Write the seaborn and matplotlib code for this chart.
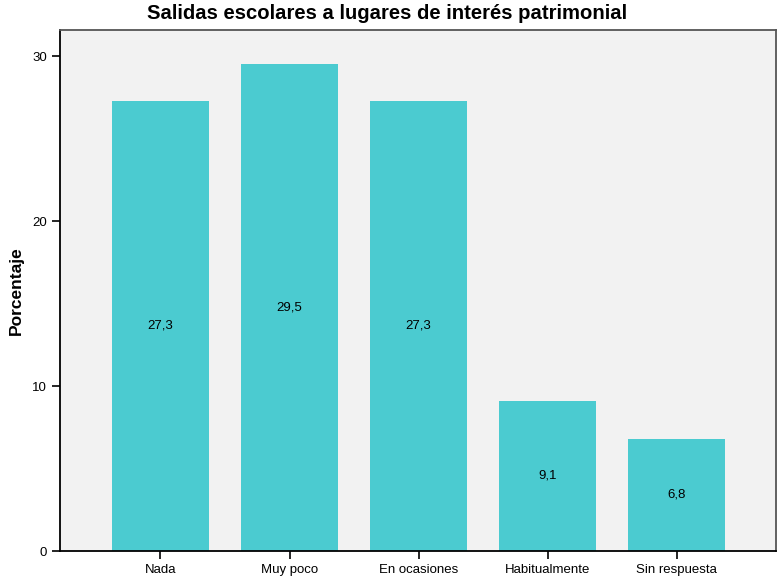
import matplotlib
matplotlib.use("Agg")
import matplotlib.pyplot as plt
import seaborn as sns
import pandas as pd

# Data
categorias = ["Nada", "Muy poco", "En ocasiones", "Habitualmente", "Sin respuesta"]
porcentajes = [27.3, 29.5, 27.3, 9.1, 6.8]
etiquetas = ["27,3", "29,5", "27,3", "9,1", "6,8"]

df = pd.DataFrame({"categoria": categorias, "porcentaje": porcentajes})

sns.set_style("white")
plt.rcParams['font.family'] = ['Liberation Sans', 'DejaVu Sans']
plt.rcParams['text.color'] = 'black'
plt.rcParams['axes.labelcolor'] = 'black'
plt.rcParams['xtick.color'] = 'black'
plt.rcParams['ytick.color'] = 'black'

fig = plt.figure(figsize=(7.81, 5.83), dpi=100)
ax = fig.add_axes([60 / 781, 32 / 583, 716 / 781, 521 / 583])
ax.set_facecolor("#f2f2f2")

sns.barplot(data=df, x="categoria", y="porcentaje", color="#4bcbd0",
            saturation=1, width=0.752, linewidth=0, ax=ax)

# Value labels at the middle of each bar
for i, (v, lab) in enumerate(zip(porcentajes, etiquetas)):
    ax.text(i, v / 2, lab, ha="center", va="center", fontsize=9.5, color="black")

ax.set_xlim(-0.779, 4.771)
ax.set_ylim(0, 31.58)
ax.set_yticks([0, 10, 20, 30])

# Title centered on the figure, like the original
fig.text(0.4955, 0.976, "Salidas escolares a lugares de interés patrimonial",
         ha="center", va="center", fontsize=14.6, fontweight="bold", color="black")
ax.set_xlabel("")
ax.set_ylabel("Porcentaje", fontsize=12.5, fontweight="bold", labelpad=6)

ax.tick_params(axis="both", direction="out", length=6, width=1.2,
               labelsize=9.5, color="black", labelcolor="black",
               bottom=True, left=True)

for s in ["left", "bottom"]:
    ax.spines[s].set_color("black")
    ax.spines[s].set_linewidth(1.3)
for s in ["top", "right"]:
    ax.spines[s].set_color("#555555")
    ax.spines[s].set_linewidth(1.3)

fig.savefig("out.png", dpi=100)
